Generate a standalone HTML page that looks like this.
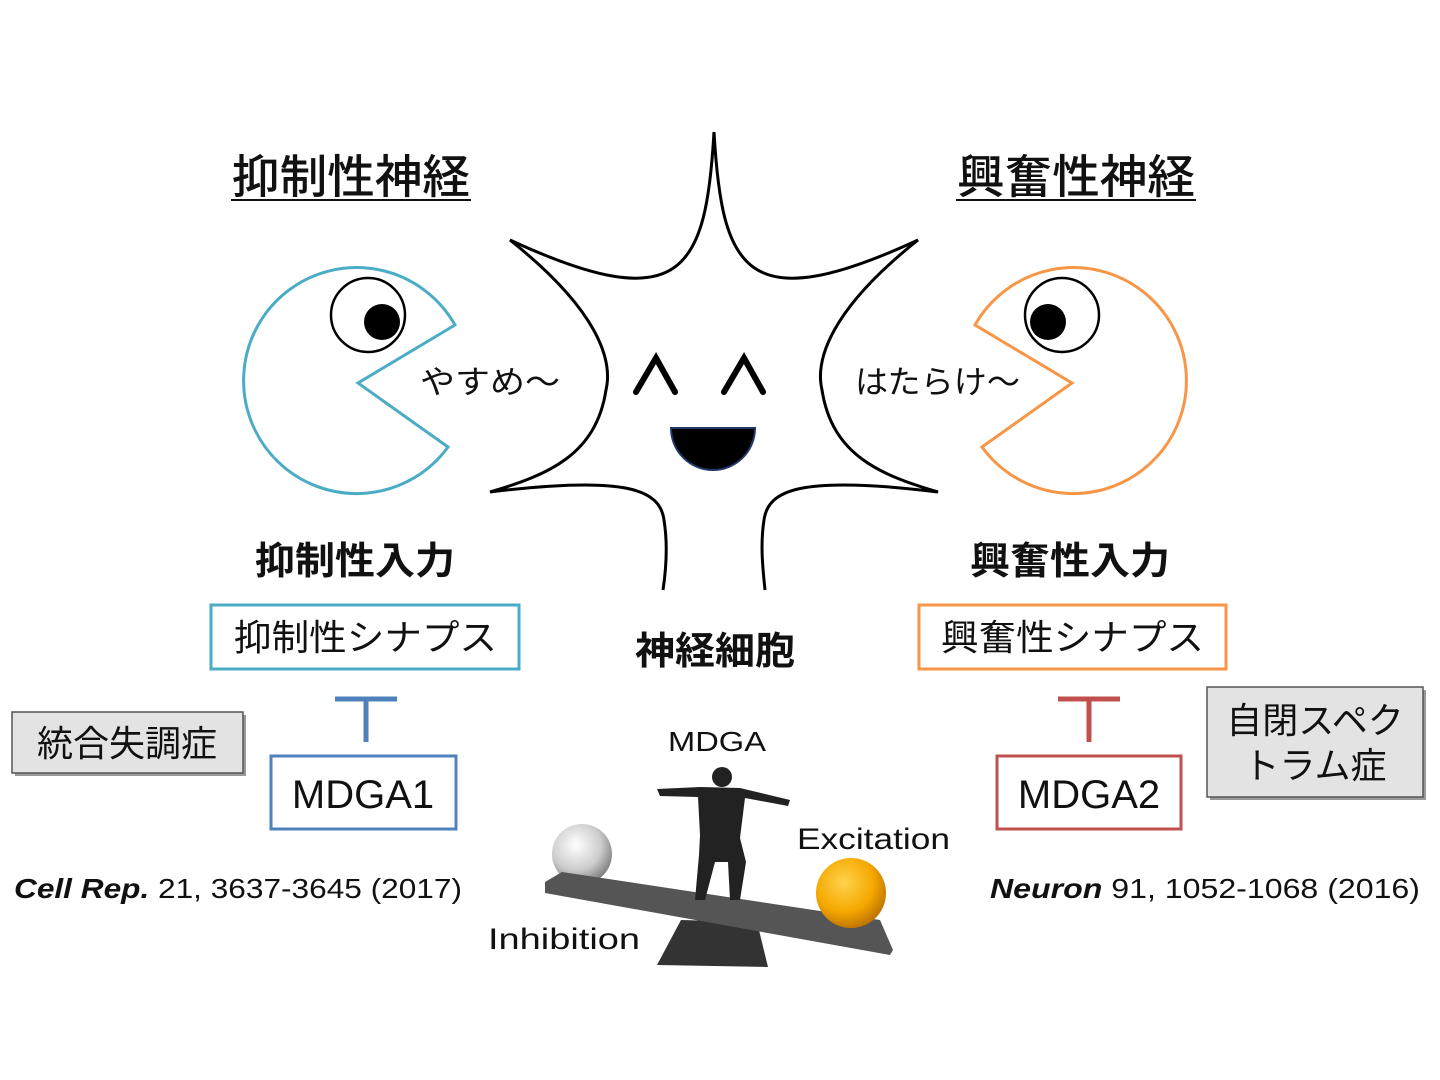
<!DOCTYPE html>
<html><head><meta charset="utf-8"><style>
body{margin:0;background:#fff;width:1440px;height:1080px;overflow:hidden}
svg{display:block}
text{font-family:"Liberation Sans","Noto Sans CJK JP",sans-serif}
</style></head><body>
<svg width="1440" height="1080" viewBox="0 0 1440 1080">
<defs>
<radialGradient id="g1" cx="0.4" cy="0.35" r="0.7"><stop offset="0" stop-color="#fff"/><stop offset="0.6" stop-color="#ccc"/><stop offset="1" stop-color="#777"/></radialGradient>
<radialGradient id="g2" cx="0.4" cy="0.35" r="0.7"><stop offset="0" stop-color="#ffd34d"/><stop offset="0.6" stop-color="#f5a800"/><stop offset="1" stop-color="#b86e00"/></radialGradient>
</defs>
<text x="232" y="193" font-size="46" font-weight="500" textLength="238" lengthAdjust="spacingAndGlyphs" fill="#111">抑制性神経</text>
<line x1="231" y1="200" x2="471" y2="200" stroke="#111" stroke-width="2"/>
<text x="957" y="193" font-size="46" font-weight="500" textLength="238" lengthAdjust="spacingAndGlyphs" fill="#111">興奮性神経</text>
<line x1="956" y1="200" x2="1196" y2="200" stroke="#111" stroke-width="2"/>
<path d="M455,325 A113,113 0 1 0 448,447 L358,383 Z" fill="#fff" stroke="#4bacc6" stroke-width="3"/>
<circle cx="368" cy="315" r="37" fill="#fff" stroke="#000" stroke-width="2.5"/>
<circle cx="382" cy="322" r="18" fill="#000"/>
<path d="M975,325 A113,113 0 1 1 982,447 L1072,383 Z" fill="#fff" stroke="#f79646" stroke-width="3"/>
<circle cx="1062" cy="315" r="37" fill="#fff" stroke="#000" stroke-width="2.5"/>
<circle cx="1048" cy="322" r="18" fill="#000"/>
<text x="420" y="393" font-size="32" textLength="140" lengthAdjust="spacingAndGlyphs" fill="#111">やすめ〜</text>
<text x="855" y="393" font-size="32" textLength="165" lengthAdjust="spacingAndGlyphs" fill="#111">はたらけ〜</text>
<path d="M714,132 C722,270 745,320 918,240 C830,310 815,360 822,390 C832,455 880,475 938,492 C800,475 768,490 764,520 C760,545 763,570 765,590 M663,590 C666,570 668,545 664,520 C660,490 628,475 490,492 C548,475 596,455 606,390 C613,360 598,310 510,240 C683,320 706,270 714,132" fill="none" stroke="#000" stroke-width="3"/>
<path d="M636,392 L656,358 L675,392" fill="none" stroke="#000" stroke-width="6" stroke-linecap="round"/>
<path d="M724,392 L744,358 L763,392" fill="none" stroke="#000" stroke-width="6" stroke-linecap="round"/>
<path d="M671,428 L755,428 A42,42 0 0 1 671,428 Z" fill="#000" stroke="#1f3864" stroke-width="2"/>
<text x="255" y="574" font-size="38" font-weight="bold" textLength="200" lengthAdjust="spacingAndGlyphs" fill="#111">抑制性入力</text>
<text x="970" y="574" font-size="38" font-weight="bold" textLength="200" lengthAdjust="spacingAndGlyphs" fill="#111">興奮性入力</text>
<rect x="211" y="605" width="308" height="64" fill="#fff" stroke="#4bacc6" stroke-width="3"/>
<text x="234" y="650" font-size="36" textLength="263" lengthAdjust="spacingAndGlyphs" fill="#111">抑制性シナプス</text>
<rect x="919" y="605" width="307" height="64" fill="#fff" stroke="#f79646" stroke-width="3"/>
<text x="941" y="650" font-size="36" textLength="263" lengthAdjust="spacingAndGlyphs" fill="#111">興奮性シナプス</text>
<text x="635" y="664" font-size="38" font-weight="bold" textLength="160" lengthAdjust="spacingAndGlyphs" fill="#111">神経細胞</text>
<path d="M335,699 H397 M366,699 V742" stroke="#4f81bd" stroke-width="5" fill="none"/>
<path d="M1058,699 H1120 M1089,699 V742" stroke="#c0504d" stroke-width="5" fill="none"/>
<rect x="271" y="756" width="185" height="73" fill="#fff" stroke="#4f81bd" stroke-width="3"/>
<text x="363" y="808" font-size="40" text-anchor="middle" fill="#111">MDGA1</text>
<rect x="997" y="756" width="184" height="73" fill="#fff" stroke="#c0504d" stroke-width="3"/>
<text x="1089" y="808" font-size="40" text-anchor="middle" fill="#111">MDGA2</text>
<rect x="15" y="715" width="231" height="61" fill="#999"/>
<rect x="12" y="712" width="231" height="61" fill="#e3e3e3" stroke="#555" stroke-width="1.5"/>
<text x="127" y="756" font-size="36" text-anchor="middle" fill="#111">統合失調症</text>
<rect x="1210" y="690" width="216" height="110" fill="#999"/>
<rect x="1207" y="687" width="216" height="110" fill="#e3e3e3" stroke="#555" stroke-width="1.5"/>
<text x="1315" y="733" font-size="36" text-anchor="middle" fill="#111">自閉スペク</text>
<text x="1315" y="778" font-size="36" text-anchor="middle" fill="#111">トラム症</text>
<text x="14" y="898" font-size="28" textLength="448" lengthAdjust="spacingAndGlyphs" fill="#111"><tspan font-weight="bold" font-style="italic">Cell Rep.</tspan> 21, 3637-3645 (2017)</text>
<text x="990" y="898" font-size="28" textLength="430" lengthAdjust="spacingAndGlyphs" fill="#111"><tspan font-weight="bold" font-style="italic">Neuron</tspan> 91, 1052-1068 (2016)</text>
<text x="668" y="751" font-size="28" textLength="98" lengthAdjust="spacingAndGlyphs" fill="#111">MDGA</text>
<text x="797" y="849" font-size="30" textLength="153" lengthAdjust="spacingAndGlyphs" fill="#111">Excitation</text>
<text x="488" y="949" font-size="30" textLength="152" lengthAdjust="spacingAndGlyphs" fill="#111">Inhibition</text>
<path d="M681,920 L757,922 L768,967 L657,965 Z" fill="#333"/>
<circle cx="582" cy="854" r="30" fill="url(#g1)"/>
<path d="M545,882 L562,872 L880,920 L893,950 L890,955 L545,893 Z" fill="#555"/>
<circle cx="851" cy="893" r="35" fill="url(#g2)"/>
<circle cx="722" cy="777" r="10" fill="#222"/>
<path d="M657,789 L700,787 L740,788 L790,800 L788,806 L745,798 L740,838 L746,862 L740,900 L730,900 L728,862 L715,862 L705,900 L695,900 L699,855 L700,835 L698,797 L660,796 Z" fill="#222"/>
</svg>
</body></html>
